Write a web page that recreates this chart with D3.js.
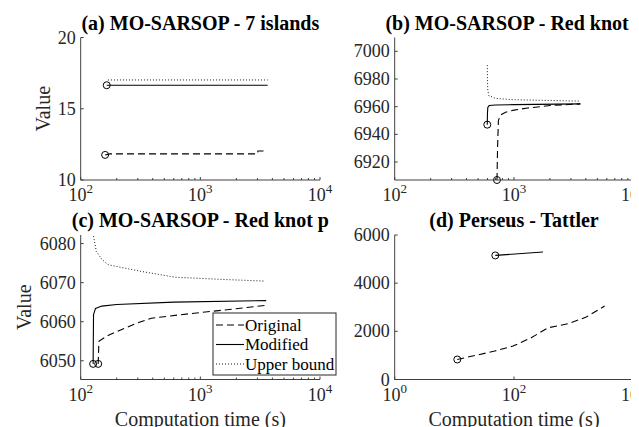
<!DOCTYPE html>
<meta charset="utf-8">
<body>
<script src="https://cdnjs.cloudflare.com/ajax/libs/d3/7.8.5/d3.min.js"></script>
<script>

// ---- data ([time in s, value]) ----

// (a) MO-SARSOP - 7 islands
var aOriginal = [[160, 11.76], [175, 11.83], [3000, 11.83], [3030, 12.04], [3600, 12.04]];
var aModified = [[165, 16.65], [3650, 16.65]];
var aUpper    = [[169, 17.02], [3650, 17.02]];
var aYTicks   = [10, 15, 20];

// (b) MO-SARSOP - Red knot r
var bOriginal = [[720, 6907], [728, 6930], [740, 6950], [770, 6954], [850, 6956],
                 [1000, 6957.5], [1300, 6959], [2000, 6960.8], [3600, 6962]];
var bModified = [[597, 6947], [599, 6955], [603, 6959.5], [620, 6960.8], [700, 6961.2],
                 [1000, 6961.5], [3600, 6962]];
var bUpper    = [[597, 6990], [599, 6980], [603, 6972], [615, 6968], [700, 6966],
                 [1000, 6965], [2000, 6964.5], [3600, 6964]];
var bYTicks   = [6920, 6940, 6960, 6980, 7000];

// (c) MO-SARSOP - Red knot p
var cOriginal = [[140, 6049.2], [142, 6055], [169, 6056.5], [282, 6059.4], [389, 6060.9],
                 [839, 6062.1], [1600, 6063], [3550, 6064.2]];
var cModified = [[127, 6049.2], [128, 6061.8], [133, 6063.4], [150, 6064], [200, 6064.4],
                 [600, 6065], [3550, 6065.4]];
var cUpper    = [[128, 6081.9], [135, 6078], [150, 6076], [169, 6074.6], [318, 6072.9],
                 [609, 6071.4], [1590, 6070.8], [3440, 6070.4]];
var cYTicks   = [6050, 6060, 6070, 6080];

// (d) Perseus - Tattler
var dOriginal = [[11.2, 831], [47.5, 1180], [96, 1387], [194, 1732], [373, 2148],
                 [804, 2314], [1625, 2592], [3310, 3049]];
var dModified = [[48.6, 5152], [306, 5293]];
var dYTicks   = [0, 2000, 4000, 6000];

var legendNames = ["Original", "Modified", "Upper bound"];

// ---- layout ----
var W = 639, H = 427;
var FONT = "'Liberation Serif'";
var AXIS = "#404040";
var dashes = { original: "7,4", modified: null, upper: "1,2" };

// resolve the serif faces up front
var ctx = document.createElement("canvas").getContext("2d");
["Liberation Serif", "Times New Roman", "Tinos", "DejaVu Serif"].forEach(function(f) {
  ["20px '" + f + "'", "bold 20px '" + f + "'"].forEach(function(spec) {
    ctx.font = spec;
    ctx.measureText("Computation time (s)");
    document.fonts.check(spec);
  });
});

var svg = d3.select("body").append("svg")
    .attr("width", W)
    .attr("height", H);

function addText(size, weight, color) {
  var t = svg.append("text")
      .style("font-family", FONT)
      .style("font-size", size + "px");
  if (weight == "bold") t.style("font-weight", "bold");
  if (color != "#000") t.style("fill", color);
  return t;
}

function addLine(x1, y1, x2, y2) {
  return svg.append("line")
      .attr("x1", x1).attr("y1", y1).attr("x2", x2).attr("y2", y2)
      .attr("stroke", AXIS).attr("stroke-width", 1);
}

var panels = [
  { title: "(a) MO-SARSOP - 7 islands", left: 72.7, right: 312, top: 29.5, bottom: 172,
    xDomain: [1e2, 1e4], xTicks: [2, 3, 4], minor: true, yDomain: [10, 20], yTicks: aYTicks,
    yLabel: 35, xLabel: false,
    series: [["original", aOriginal, true], ["modified", aModified, true], ["upper", aUpper, false]] },
  { title: "(b) MO-SARSOP - Red knot r", left: 386.7, right: 625.3, top: 29.5, bottom: 172,
    xDomain: [1e2, 1e4], xTicks: [2, 3, 4], minor: true, yDomain: [6907, 7010], yTicks: bYTicks,
    yLabel: null, xLabel: false,
    series: [["original", bOriginal, true], ["modified", bModified, true], ["upper", bUpper, false]] },
  { title: "(c) MO-SARSOP - Red knot p", left: 72.7, right: 312, top: 227, bottom: 371.5,
    xDomain: [1e2, 1e4], xTicks: [2, 3, 4], minor: true, yDomain: [6045.2, 6082.2], yTicks: cYTicks,
    yLabel: 16, xLabel: true, legend: true,
    series: [["original", cOriginal, true], ["modified", cModified, true], ["upper", cUpper, false]] },
  { title: "(d) Perseus - Tattler", left: 386.7, right: 625.3, top: 227, bottom: 371.5,
    xDomain: [1, 1e4], xTicks: [0, 2, 4], minor: false, yDomain: [0, 6000], yTicks: dYTicks,
    yLabel: null, xLabel: true,
    series: [["original", dOriginal, true], ["modified", dModified, true]] }
];

panels.forEach(function(p) {
  var x = d3.scaleLog().domain(p.xDomain).range([p.left, p.right]);
  var y = d3.scaleLinear().domain(p.yDomain).range([p.bottom, p.top]);

  // title
  addText(20, "bold", "#000")
      .attr("x", (p.left + p.right) / 2).attr("y", p.top - 8)
      .attr("text-anchor", "middle").text(p.title);

  // series
  var line = d3.line().x(function(d) { return x(d[0]); }).y(function(d) { return y(d[1]); });
  p.series.forEach(function(s) {
    svg.append("path").datum(s[1])
        .attr("fill", "none").attr("stroke", "#000")
        .attr("stroke-dasharray", dashes[s[0]])
        .attr("stroke-width", s[0] == "upper" ? 0.9 : 1.1)
        .attr("d", line);
    if (s[2]) {
      svg.append("circle")
          .attr("fill", "none").attr("stroke", "#000").attr("stroke-width", 1)
          .attr("cx", x(s[1][0][0])).attr("cy", y(s[1][0][1])).attr("r", 3.5);
    }
  });

  // axes (left + bottom only, ticks inside)
  svg.append("path")
      .attr("fill", "none").attr("stroke", AXIS).attr("stroke-width", 1)
      .attr("d", "M" + p.left + "," + p.top + "V" + p.bottom + "H" + p.right);

  if (p.minor) {
    for (var e = Math.log10(p.xDomain[0]); e < Math.log10(p.xDomain[1]); e++)
      for (var m = 2; m < 10; m++) {
        var v = m * Math.pow(10, e);
        addLine(x(v), p.bottom, x(v), p.bottom - 2);
      }
  }
  p.xTicks.forEach(function(e) {
    var v = Math.pow(10, e);
    addLine(x(v), p.bottom, x(v), p.bottom - 3);
    var t = addText(18, "normal", "#262626")
        .attr("x", x(v)).attr("y", p.bottom + 21).attr("text-anchor", "middle");
    t.append("tspan").text("10");
    t.append("tspan").attr("dy", -8).style("font-size", "13px").text(e);
  });

  p.yTicks.forEach(function(v) {
    addLine(p.left, y(v), p.left + 3, y(v));
    addText(18, "normal", "#262626")
        .attr("x", p.left - 5).attr("y", y(v) + 6)
        .attr("text-anchor", "end").text(v);
  });

  if (p.yLabel != null) {
    addText(20, "normal", "#262626")
        .attr("transform", "translate(" + (p.yLabel + 7) + "," + ((p.top + p.bottom) / 2) + ") rotate(-90)")
        .attr("text-anchor", "middle").text("Value");
  }
  if (p.xLabel) {
    addText(20, "normal", "#262626")
        .attr("x", (p.left + p.right) / 2).attr("y", p.bottom + 46)
        .attr("text-anchor", "middle").text("Computation time (s)");
  }

  // legend
  if (p.legend) {
    svg.append("rect").attr("x", 205).attr("y", 305).attr("width", 123).attr("height", 62)
        .attr("fill", "#fff").attr("stroke", "#262626").attr("stroke-width", 1);
    ["original", "modified", "upper"].forEach(function(k, i) {
      var yy = 305 + 12 + i * 19.5;
      svg.append("line")
          .attr("x1", 208).attr("x2", 236).attr("y1", yy).attr("y2", yy)
          .attr("stroke", "#000")
          .attr("stroke-width", k == "upper" ? 0.9 : 1.1)
          .attr("stroke-dasharray", dashes[k]);
      addText(17, "normal", "#000")
          .attr("x", 237).attr("y", yy + 5.5).text(legendNames[i]);
    });
  }
});

</script>
</body>
